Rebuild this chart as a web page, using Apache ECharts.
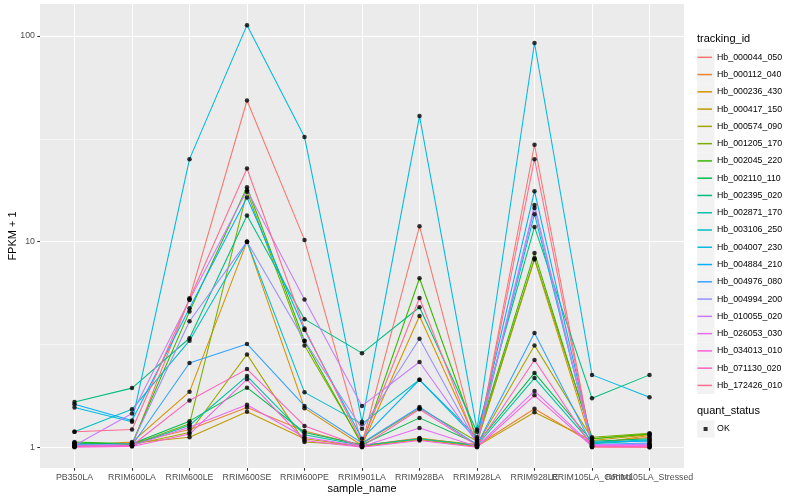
<!DOCTYPE html>
<html><head><meta charset="utf-8">
<script src="https://cdn.jsdelivr.net/npm/echarts@6/dist/echarts.min.js"></script>
<style>html,body{margin:0;padding:0;background:#fff}#c{width:800px;height:500px}</style>
</head><body><div id="c"></div>
<script>
const sampleNames = ['PB350LA','RRIM600LA','RRIM600LE','RRIM600SE','RRIM600PE','RRIM901LA','RRIM928BA','RRIM928LA','RRIM928LE','RRIM105LA_Control','RRIM105LA_Stressed'];
const trackingIds = ['Hb_000044_050','Hb_000112_040','Hb_000236_430','Hb_000417_150','Hb_000574_090','Hb_001205_170','Hb_002045_220','Hb_002110_110','Hb_002395_020','Hb_002871_170','Hb_003106_250','Hb_004007_230','Hb_004884_210','Hb_004976_080','Hb_004994_200','Hb_010055_020','Hb_026053_030','Hb_034013_010','Hb_071130_020','Hb_172426_010'];
const palette = ['#F8766D','#EA8331','#D89000','#C09B00','#A3A500','#7CAE00','#39B600','#00BB4E','#00BF7D','#00C1A3','#00BFC4','#00BAE0','#00B0F6','#35A2FF','#9590FF','#C77CFF','#E76BF3','#FA62DB','#FF62BC','#FF6C91'];

// FPKM + 1 per sample, in sampleNames order
const hb_000044_050 = [1.01, 1.02, 5.3, 48.6, 10.2, 1.04, 11.9, 1.03, 29.6, 1.01, 1.02];
const hb_000112_040 = [1.03, 1.05, 1.22, 1.56, 1.2, 1.02, 1.11, 1.02, 1.54, 1.05, 1.12];
const hb_000236_430 = [1.02, 1.06, 1.86, 10.0, 1.55, 1.02, 4.35, 1.05, 8.2, 1.04, 1.14];
const hb_000417_150 = [1.02, 1.05, 1.12, 1.49, 1.1, 1.01, 1.09, 1.01, 1.48, 1.08, 1.15];
const hb_000574_090 = [1.04, 1.03, 1.18, 2.83, 1.06, 1.02, 1.1, 1.03, 3.13, 1.1, 1.16];
const hb_001205_170 = [1.05, 1.03, 1.3, 17.5, 3.13, 1.04, 1.55, 1.07, 8.3, 1.12, 1.17];
const hb_002045_220 = [1.06, 1.04, 4.57, 18.4, 3.29, 1.03, 6.64, 1.1, 8.8, 1.1, 1.16];
const hb_002110_110 = [1.05, 1.04, 1.34, 1.95, 1.18, 1.03, 1.39, 1.04, 2.3, 1.07, 1.1];
const hb_002395_020 = [1.66, 1.94, 3.39, 13.4, 4.2, 2.87, 4.8, 1.19, 11.8, 1.73, 2.25];
const hb_002871_170 = [1.04, 1.02, 1.28, 2.22, 1.15, 1.02, 1.1, 1.02, 2.17, 1.04, 1.08];
const hb_003106_250 = [1.19, 1.53, 3.3, 10.0, 1.85, 1.3, 2.13, 1.09, 13.6, 1.05, 1.09];
const hb_004007_230 = [1.56, 1.33, 25.2, 113, 32.3, 1.33, 40.8, 1.22, 92.5, 2.25, 1.75];
const hb_004884_210 = [1.62, 1.35, 4.75, 16.4, 3.72, 1.1, 2.13, 1.12, 17.6, 1.06, 1.07];
const hb_004976_080 = [1.03, 1.02, 2.57, 3.18, 1.59, 1.05, 1.57, 1.03, 3.6, 1.03, 1.05];
const hb_004994_200 = [1.02, 1.04, 4.1, 10.0, 3.3, 1.23, 3.37, 1.04, 14.6, 1.02, 1.04];
const hb_010055_020 = [1.02, 1.46, 5.2, 17.8, 5.23, 1.59, 2.6, 1.05, 15.1, 1.03, 1.03];
const hb_026053_030 = [1.01, 1.02, 1.25, 1.61, 1.12, 1.01, 1.24, 1.01, 1.88, 1.02, 1.02];
const hb_034013_010 = [1.0, 1.01, 1.16, 2.14, 1.08, 1.0, 1.08, 1.0, 1.79, 1.01, 1.01];
const hb_071130_020 = [1.01, 1.02, 1.69, 2.40, 1.27, 1.01, 1.53, 1.02, 2.66, 1.01, 1.0];
const hb_172426_010 = [1.19, 1.22, 5.25, 22.7, 3.78, 1.05, 5.32, 1.03, 25.2, 1.0, 1.0];

const seriesValues = [hb_000044_050, hb_000112_040, hb_000236_430, hb_000417_150, hb_000574_090, hb_001205_170, hb_002045_220, hb_002110_110, hb_002395_020, hb_002871_170, hb_003106_250, hb_004007_230, hb_004884_210, hb_004976_080, hb_004994_200, hb_010055_020, hb_026053_030, hb_034013_010, hb_071130_020, hb_172426_010];
const quantStatus = 'OK';
const yTickValues = [1, 10, 100];
const yMinorValues = [3.1623, 31.623];
const xTickValues = sampleNames.map((n, i) => i + 1);
// labels split over two axes so that overlapping neighbours are all drawn
const xLabelsA = xTickValues.filter(v => v !== 10);
const xLabelsB = [10];

const FONT = '"Liberation Sans", Arial, Helvetica, sans-serif';
const chart = echarts.init(document.getElementById('c'), null, {renderer: 'canvas'});

const lineSeries = trackingIds.map((id, k) => ({
  name: id,
  type: 'line',
  data: seriesValues[k].map((v, i) => [i + 1, v]),
  showSymbol: false,
  symbol: 'none',
  color: palette[k],
  lineStyle: {width: 1.07, color: palette[k]},
  z: 2,
  silent: true,
  emphasis: {disabled: true}
}));

const pointData = [];
seriesValues.forEach(arr => arr.forEach((v, i) => pointData.push([i + 1, v])));

const keyRects = [];
trackingIds.forEach((id, k) => keyRects.push({
  type: 'rect', left: 697.2, top: 48.65 + k * 17.27, shape: {width: 17.3, height: 17.3},
  style: {fill: '#F2F2F2'}, z: 0, silent: true
}));
keyRects.push({type: 'rect', left: 697.2, top: 420.3, shape: {width: 17.3, height: 17.3}, style: {fill: '#F2F2F2'}, z: 0, silent: true});

const xLabelStyle = {formatter: v => sampleNames[Math.round(v) - 1] || '', fontSize: 8.8, color: '#4D4D4D', margin: 5.5, fontFamily: FONT, hideOverlap: false, showMinLabel: true, showMaxLabel: true};

chart.setOption({
  animation: false,
  backgroundColor: '#fff',
  textStyle: {fontFamily: FONT},
  grid: {left: 40, right: 116, top: 4, bottom: 32, show: true, backgroundColor: '#EBEBEB', borderWidth: 0, containLabel: false, outerBoundsMode: 'none'},
  xAxis: [{
    type: 'value', min: 0.4, max: 11.6,
    name: 'sample_name', nameLocation: 'middle', nameGap: 15, nameMoveOverlap: false,
    nameTextStyle: {fontSize: 11, color: '#000', fontFamily: FONT},
    axisLine: {show: false},
    axisTick: {show: true, customValues: xTickValues, length: 2.75, lineStyle: {color: '#333', width: 1.07}},
    axisLabel: Object.assign({customValues: xLabelsA}, xLabelStyle),
    splitLine: {show: true, customValues: xTickValues, lineStyle: {color: '#fff', width: 1.07}},
    minorSplitLine: {show: false}
  }, {
    type: 'value', min: 0.4, max: 11.6, position: 'bottom', gridIndex: 0,
    axisLine: {show: false}, axisTick: {show: false}, splitLine: {show: false},
    axisLabel: Object.assign({customValues: xLabelsB}, xLabelStyle)
  }],
  yAxis: [{
    type: 'log', logBase: 10, min: 0.793, max: 143.2,
    name: 'FPKM + 1', nameLocation: 'middle', nameGap: 22, nameRotate: 90, nameMoveOverlap: false,
    nameTextStyle: {fontSize: 11, color: '#000', fontFamily: FONT},
    axisLine: {show: false},
    axisTick: {show: true, customValues: yTickValues, length: 2.75, lineStyle: {color: '#333', width: 1.07}},
    axisLabel: {customValues: yTickValues, formatter: v => String(Math.round(v)), fontSize: 8.8, color: '#4D4D4D', margin: 5, fontFamily: FONT, showMinLabel: true, showMaxLabel: true},
    splitLine: {show: true, customValues: yTickValues, lineStyle: {color: '#fff', width: 1.07}}
  }, {
    type: 'log', logBase: 10, min: 0.793, max: 143.2, position: 'left', gridIndex: 0,
    axisLine: {show: false},
    axisTick: {show: false, customValues: yMinorValues},
    axisLabel: {show: false, customValues: yMinorValues},
    splitLine: {show: true, customValues: yMinorValues, lineStyle: {color: '#fff', width: 0.55}}
  }],
  legend: [{
    data: trackingIds, orient: 'vertical', left: 697.5, top: 48.8, padding: 0,
    itemWidth: 14.5, itemHeight: 1.5, icon: 'rect', itemGap: 0.27, selectedMode: false,
    textStyle: {fontSize: 8.8, color: '#000', lineHeight: 17.0, fontFamily: FONT}
  }, {
    data: [quantStatus], orient: 'vertical', left: 703.6, top: 420.5, padding: 0,
    itemWidth: 4, itemHeight: 4, icon: 'rect', selectedMode: false,
    textStyle: {fontSize: 8.8, color: '#000', lineHeight: 17.0, fontFamily: FONT, padding: [0, 0, 0, 4.5]}
  }],
  graphic: [
    ...keyRects,
    {type: 'text', left: 697, top: 33.5, style: {text: 'tracking_id', fontSize: 11, fill: '#000', fontFamily: FONT}, z: 5},
    {type: 'text', left: 697, top: 405.8, style: {text: 'quant_status', fontSize: 11, fill: '#000', fontFamily: FONT}, z: 5}
  ],
  series: [
    ...lineSeries,
    {
      name: quantStatus, type: 'scatter', data: pointData, symbol: 'circle', symbolSize: 4.5,
      itemStyle: {color: '#000'}, color: '#000', z: 3, silent: true, emphasis: {disabled: true}
    }
  ]
});
</script></body></html>
